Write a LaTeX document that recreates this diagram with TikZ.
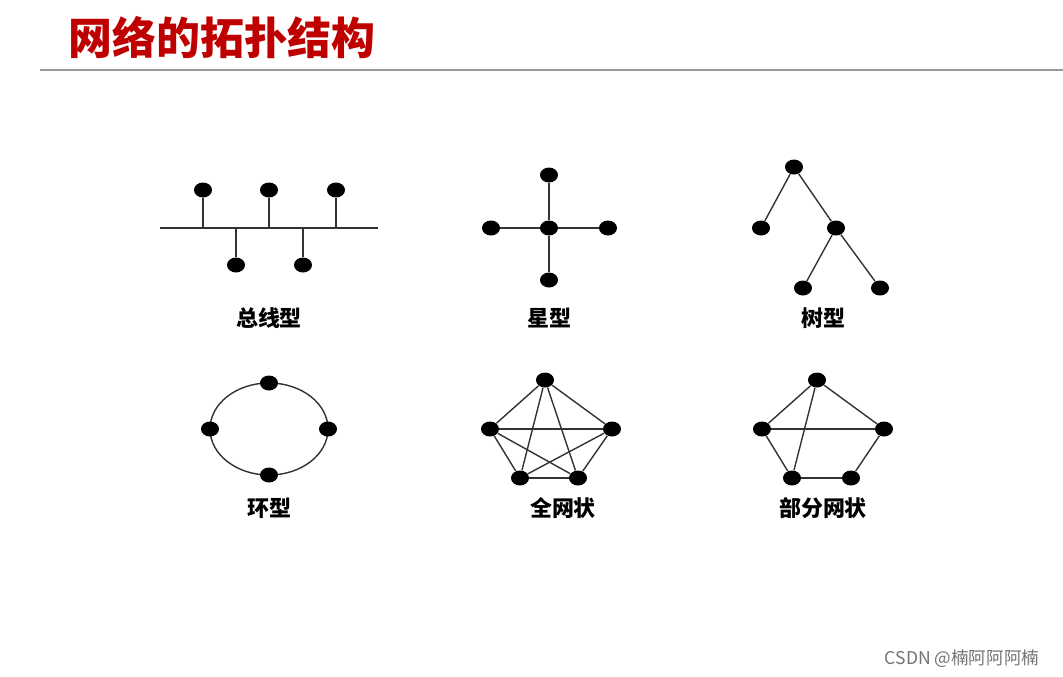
\documentclass[tikz,border=0pt]{standalone}
\usepackage{fontspec}
\setmainfont{Noto Sans CJK SC}
\usetikzlibrary{shapes.geometric}

\begin{document}
\begin{tikzpicture}[
  x=0.02cm, y=-0.02cm,
  dot/.style={ellipse, fill=black, inner sep=0pt, minimum width=0.36cm, minimum height=0.3cm},
  link/.style={draw=black!80, line width=0.8pt},
  caption/.style={font=\bfseries\fontsize{12.5}{14}\selectfont}
]
\useasboundingbox (0,0) rectangle (1063,677);
% title
\node[anchor=west, inner xsep=0pt, text=red!75!black, font=\bfseries\fontsize{25}{28}\selectfont] (title) at (68,38) {网络的拓扑结构};
\coordinate (rulel) at (40,70);
\coordinate (ruler) at (1063,70);
\draw[black!40, line width=1.5pt] (rulel) -- (ruler);

% bus
\coordinate (busl) at (160,228);
\coordinate (busr) at (378,228);
\draw[link] (busl) -- (busr);
\foreach \n/\x/\y in {a/203/190, b/269/190, c/336/190, d/236/265, e/303/265} {
  \node[dot] (bus\n) at (\x,\y) {};
  \coordinate (bus\n s) at (\x,228);
  \draw[link] (bus\n) -- (bus\n s);
}
\node[caption] (buscap) at (269,318) {总线型};

% star
\node[dot] (starc) at (549,228) {};
\node[dot] (start) at (549,175) {};
\node[dot] (starl) at (491,228) {};
\node[dot] (starr) at (608,228) {};
\node[dot] (starb) at (549,280) {};
\foreach \n in {start,starl,starr,starb} \draw[link] (starc) -- (\n);
\node[caption] (starcap) at (549,318) {星型};

% tree
\node[dot] (treer) at (794,167) {};
\node[dot] (treel) at (761,228) {};
\node[dot] (treem) at (836,228) {};
\node[dot] (treebl) at (803,288) {};
\node[dot] (treebr) at (880,288) {};
\draw[link] (treel) -- (treer) -- (treem) -- (treebl);
\draw[link] (treem) -- (treebr);
\node[caption] (treecap) at (823,318) {树型};

% ring
\draw[link] (269,429) ellipse [x radius=59, y radius=46];
\node[dot] (ringt) at (269,383) {};
\node[dot] (ringl) at (210,429) {};
\node[dot] (ringr) at (328,429) {};
\node[dot] (ringb) at (269,475) {};
\node[caption] (ringcap) at (269,508) {环型};

% full mesh
\node[dot] (fm1) at (545,380) {};
\node[dot] (fm2) at (612,429) {};
\node[dot] (fm3) at (578,478) {};
\node[dot] (fm4) at (520,478) {};
\node[dot] (fm5) at (490,429) {};
\foreach \i/\j in {1/2,1/3,1/4,1/5,2/3,2/4,2/5,3/4,3/5,4/5}
  \draw[link] (fm\i) -- (fm\j);
\node[caption] (fmcap) at (563,508) {全网状};

% partial mesh
\node[dot] (pm1) at (817,380) {};
\node[dot] (pm2) at (884,429) {};
\node[dot] (pm3) at (851,478) {};
\node[dot] (pm4) at (792,478) {};
\node[dot] (pm5) at (762,429) {};
\foreach \i/\j in {1/2,1/4,1/5,2/3,2/5,3/4,4/5}
  \draw[link] (pm\i) -- (pm\j);
\node[caption] (pmcap) at (823,508) {部分网状};

% watermark
\node[text=black!55, font=\fontsize{10}{12}\selectfont] (mark) at (962,659) {CSDN @楠阿阿阿楠};
\end{tikzpicture}
\end{document}
